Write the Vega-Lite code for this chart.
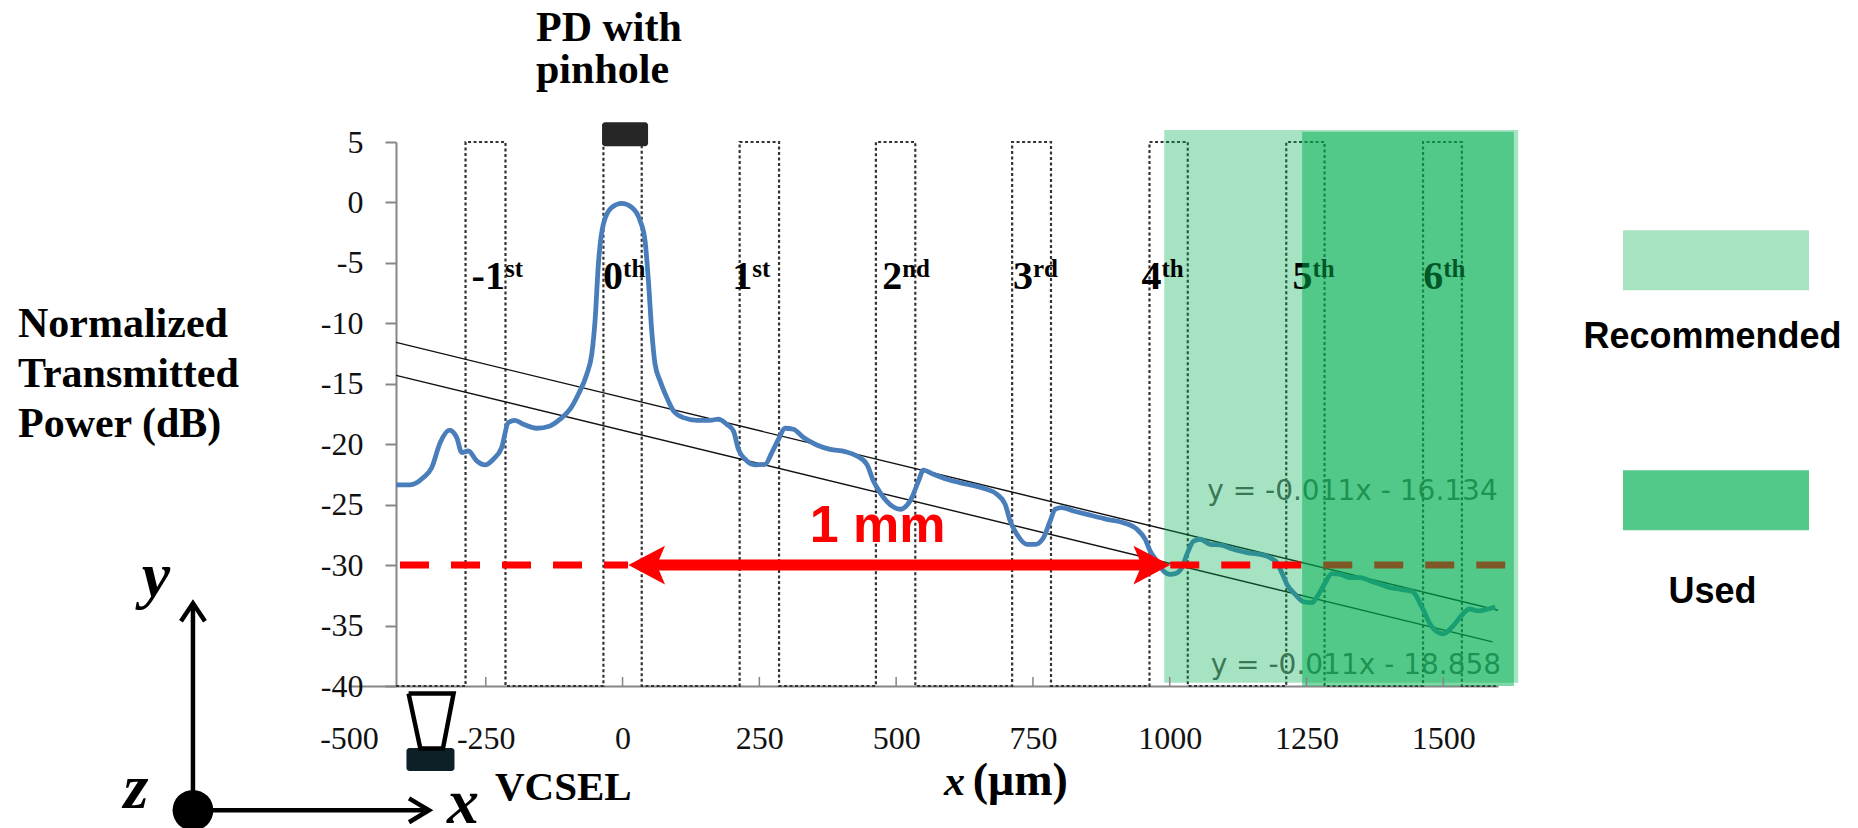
{
  "$schema": "https://vega.github.io/schema/vega-lite/v6.json",
  "width": 1149,
  "height": 544,
  "autosize": {"type": "none"},
  "padding": {"left": 349, "top": 142, "right": 360, "bottom": 142},
  "background": "white",
  "config": {"view": {"stroke": null}},
  "datasets": {
    "curve": [
      {"x":-414,"y":-23.37},{"x":-388.5,"y":-23.37},{"x":-364.1,"y":-22.76},{"x":-348.9,"y":-21.94},{"x":-333.6,"y":-19.9},{"x":-316.6,"y":-18.84},{"x":-303.1,"y":-19.45},{"x":-294,"y":-20.69},{"x":-281.9,"y":-20.56},{"x":-266.6,"y":-21.38},{"x":-251.4,"y":-21.71},{"x":-236.2,"y":-21.24},{"x":-221,"y":-20.28},{"x":-208.8,"y":-18.21},{"x":-196.6,"y":-18.02},{"x":-181.3,"y":-18.35},{"x":-156.9,"y":-18.68},{"x":-132.5,"y":-18.49},{"x":-114.3,"y":-17.93},{"x":-96,"y":-17.1},{"x":-80.8,"y":-15.86},{"x":-65.4,"y":-14.21},{"x":-56.3,"y":-12.55},{"x":-50.3,"y":-9.79},{"x":-44.2,"y":-5.1},{"x":-35.1,"y":-1.79},{"x":-19.7,"y":-0.41},{"x":-1.5,"y":-0.08},{"x":16.8,"y":-0.41},{"x":32,"y":-1.51},{"x":41.1,"y":-3.17},{"x":47.2,"y":-6.48},{"x":53.3,"y":-10.62},{"x":59.4,"y":-13.38},{"x":68.6,"y":-14.76},{"x":80.8,"y":-16.14},{"x":92.9,"y":-17.24},{"x":111.2,"y":-17.8},{"x":135.6,"y":-18.02},{"x":160,"y":-18.02},{"x":175.1,"y":-17.93},{"x":190.4,"y":-18.35},{"x":202.6,"y":-18.9},{"x":211.7,"y":-20.42},{"x":223.9,"y":-21.24},{"x":242.2,"y":-21.71},{"x":260.5,"y":-21.66},{"x":272.8,"y":-20.69},{"x":284.9,"y":-19.59},{"x":297,"y":-18.68},{"x":312.3,"y":-18.76},{"x":330.6,"y":-19.45},{"x":355,"y":-20.06},{"x":379.3,"y":-20.42},{"x":406.7,"y":-20.61},{"x":428,"y":-20.97},{"x":446.4,"y":-21.66},{"x":458.5,"y":-23.04},{"x":470.7,"y":-24.0},{"x":495.1,"y":-25.19},{"x":507.3,"y":-25.38},{"x":528.7,"y":-24.42},{"x":540.8,"y":-23.04},{"x":549.9,"y":-22.15},{"x":568.2,"y":-22.48},{"x":592.7,"y":-22.9},{"x":629.2,"y":-23.31},{"x":659.6,"y":-23.64},{"x":684.1,"y":-24.14},{"x":699.3,"y":-24.97},{"x":708.4,"y":-26.35},{"x":720.7,"y":-27.45},{"x":739,"y":-28.28},{"x":754.1,"y":-28.28},{"x":769.3,"y":-27.73},{"x":781.5,"y":-26.35},{"x":790.7,"y":-25.38},{"x":802.9,"y":-25.25},{"x":824.1,"y":-25.52},{"x":848.6,"y":-25.8},{"x":885.2,"y":-26.21},{"x":915.5,"y":-26.49},{"x":940,"y":-27.04},{"x":955.2,"y":-27.86},{"x":964.3,"y":-28.83},{"x":976.5,"y":-29.66},{"x":988.7,"y":-30.49},{"x":1000.9,"y":-30.76},{"x":1010,"y":-30.71},{"x":1022.3,"y":-30.21},{"x":1031.4,"y":-29.11},{"x":1043.5,"y":-28.01},{"x":1055.7,"y":-27.86},{"x":1074,"y":-28.28},{"x":1092.3,"y":-28.33},{"x":1116.6,"y":-28.69},{"x":1141,"y":-28.97},{"x":1165.4,"y":-29.11},{"x":1183.7,"y":-29.39},{"x":1195.9,"y":-29.8},{"x":1205,"y":-30.63},{"x":1214.2,"y":-31.59},{"x":1229.4,"y":-32.42},{"x":1244.6,"y":-33.03},{"x":1259.9,"y":-33.11},{"x":1272.1,"y":-32.42},{"x":1284.3,"y":-31.45},{"x":1296.5,"y":-30.71},{"x":1311.7,"y":-30.76},{"x":1330,"y":-31.04},{"x":1348.3,"y":-31.04},{"x":1366.6,"y":-31.31},{"x":1384.8,"y":-31.59},{"x":1403.1,"y":-31.87},{"x":1421.4,"y":-32.0},{"x":1444,"y":-32.2},{"x":1461,"y":-33.47},{"x":1478.4,"y":-35.06},{"x":1500,"y":-35.69},{"x":1517.4,"y":-35.06},{"x":1534.6,"y":-34.11},{"x":1547.5,"y":-33.63},{"x":1564.7,"y":-33.79},{"x":1582,"y":-33.63},{"x":1595,"y":-33.47}
    ],
    "wave": [
      {"o":1,"x":-414,"y":-40},{"o":2,"x":-287,"y":-40},{"o":3,"x":-287,"y":5},{"o":4,"x":-214,"y":5},{"o":5,"x":-214,"y":-40},{"o":6,"x":-35,"y":-40},{"o":7,"x":-35,"y":5},{"o":8,"x":35,"y":5},{"o":9,"x":35,"y":-40},{"o":10,"x":214,"y":-40},{"o":11,"x":214,"y":5},{"o":12,"x":286,"y":5},{"o":13,"x":286,"y":-40},{"o":14,"x":463,"y":-40},{"o":15,"x":463,"y":5},{"o":16,"x":535,"y":5},{"o":17,"x":535,"y":-40},{"o":18,"x":712,"y":-40},{"o":19,"x":712,"y":5},{"o":20,"x":783,"y":5},{"o":21,"x":783,"y":-40},{"o":22,"x":963,"y":-40},{"o":23,"x":963,"y":5},{"o":24,"x":1033,"y":5},{"o":25,"x":1033,"y":-40},{"o":26,"x":1213,"y":-40},{"o":27,"x":1213,"y":5},{"o":28,"x":1283,"y":5},{"o":29,"x":1283,"y":-40},{"o":30,"x":1463,"y":-40},{"o":31,"x":1463,"y":5},{"o":32,"x":1534,"y":5},{"o":33,"x":1534,"y":-40},{"o":34,"x":1599,"y":-40}
    ],
    "fits": [
      {"id":"upper","x":-414,"y":-11.58},{"id":"upper","x":1600,"y":-33.73},
      {"id":"lower","x":-414,"y":-14.30},{"id":"lower","x":1590,"y":-36.35}
    ],
    "eqs": [
      {"x":1068.5,"y":-24.6,"t":"y = -0.011x - 16.134"},
      {"x":1074.8,"y":-39.0,"t":"y = -0.011x - 18.858"}
    ],
    "light": [{"x":990,"x2":1637,"y":-39.74,"y2":6.0}],
    "dark": [{"x":1242,"x2":1629,"y":-40,"y2":5.84}],
    "orders": [
      {"x":-215,"y":-7.15,"m":"-1","s":"st"},
      {"x":1,"y":-7.15,"m":"0","s":"th"},
      {"x":237,"y":-7.15,"m":"1","s":"st"},
      {"x":511,"y":-7.15,"m":"2","s":"nd"},
      {"x":750,"y":-7.15,"m":"3","s":"rd"},
      {"x":985,"y":-7.15,"m":"4","s":"th"},
      {"x":1261,"y":-7.15,"m":"5","s":"th"},
      {"x":1500,"y":-7.15,"m":"6","s":"th"}
    ],
    "redDash": [{"x":-406.8,"x2":10,"y":-30},{"x":1001,"x2":1617,"y":-30}],
    "shaft": [{"x":30,"x2":975,"y":-30}],
    "headL": [{"x":44.1,"y":-30}],
    "headR": [{"x":967.2,"y":-30}],
    "mm": [{"x":342,"y":-28.07,"t":"1 mm"}],
    "xticks": [
      {"x":-250,"y":-40,"y2":-39.25},{"x":0,"y":-40,"y2":-39.25},{"x":250,"y":-40,"y2":-39.25},{"x":500,"y":-40,"y2":-39.25},{"x":750,"y":-40,"y2":-39.25},{"x":1000,"y":-40,"y2":-39.25},{"x":1250,"y":-40,"y2":-39.25},{"x":1500,"y":-40,"y2":-39.25}
    ],
    "pdbox": [{"x":-37.5,"x2":46.6,"y":4.64,"y2":6.63}],
    "pdtext": [{"x":-158.2,"y":13.33,"t":"PD with\npinhole"}],
    "ytitle": [{"x":-1105,"y":-11.13,"t":"Normalized\nTransmitted\nPower (dB)"}],
    "vcsel": [{"x":-233.2,"y":-49.45,"t":"VCSEL"}],
    "vcselbox": [{"x":-395,"x2":-307.2,"y":-45.13,"y2":-47.03}],
    "trap": [
      {"o":1,"x":-391.1,"y":-40.63},{"o":2,"x":-308.9,"y":-40.63},{"o":3,"x":-328.3,"y":-45.18},{"o":4,"x":-369.6,"y":-45.18},{"o":5,"x":-391.1,"y":-40.63}
    ],
    "axv": [{"x":-785.2,"y":-50.28,"y2":-33.16}],
    "axh": [{"x":-785.2,"x2":-353.8,"y":-50.28}],
    "chev": [
      {"g":"u","o":1,"x":-807.1,"y":-34.65},{"g":"u","o":2,"x":-785.2,"y":-33.16},{"g":"u","o":3,"x":-763.2,"y":-34.65},
      {"g":"r","o":1,"x":-390.3,"y":-49.29},{"g":"r","o":2,"x":-353.8,"y":-50.28},{"g":"r","o":3,"x":-390.3,"y":-51.27}
    ],
    "origin": [{"x":-785.2,"y":-50.28}],
    "letters": [
      {"x":-852.9,"y":-32.58,"t":"y"},
      {"x":-889.4,"y":-50.12,"t":"z"},
      {"x":-291.6,"y":-51.3,"t":"x"}
    ],
    "xtitleA": [{"x":626,"y":-49.04,"t":"x"}],
    "xtitleB": [{"x":640,"y":-49.04,"t":"(μm)"}],
    "legendBox": [
      {"k":"Recommended","x":1828.5,"x2":2168.4,"y":-2.30,"y2":-7.27},
      {"k":"Used","x":1828.5,"x2":2168.4,"y":-22.16,"y2":-27.12}
    ],
    "legendText": [
      {"x":1992,"y":-12.07,"t":"Recommended"},
      {"x":1992,"y":-33.16,"t":"Used"}
    ]
  },
  "encoding": {
    "x": {
      "field": "x", "type": "quantitative",
      "scale": {"domain": [-500, 1600], "nice": false, "zero": false},
      "axis": {
        "title": null, "grid": false,
        "values": [-500, -250, 0, 250, 500, 750, 1000, 1250, 1500],
        "ticks": false, "tickSize": 0, "labelPadding": 37,
        "labelFont": "Liberation Serif", "labelFontSize": 32, "labelColor": "#111111",
        "labelFlush": false, "labelOverlap": false,
        "labelExpr": "'' + datum.value",
        "domainColor": "#868686", "domainWidth": 2
      }
    },
    "y": {
      "field": "y", "type": "quantitative",
      "scale": {"domain": [-40, 5], "nice": false, "zero": false},
      "axis": {
        "title": null, "grid": false,
        "values": [5, 0, -5, -10, -15, -20, -25, -30, -35, -40],
        "offset": -47, "tickSize": 11, "tickColor": "#868686", "tickWidth": 2,
        "labelPadding": 22, "labelFont": "Liberation Serif", "labelFontSize": 32, "labelColor": "#111111",
        "labelFlush": false, "labelOverlap": false,
        "labelExpr": "'' + datum.value",
        "domainColor": "#868686", "domainWidth": 2
      }
    }
  },
  "layer": [
    {"data": {"name": "wave"}, "mark": {"type": "line", "color": "#333333", "strokeWidth": 2.2, "strokeDash": [3, 2.5]}, "encoding": {"order": {"field": "o", "type": "quantitative"}}},
    {"data": {"name": "fits"}, "mark": {"type": "line", "color": "#111111", "strokeWidth": 1.4}, "encoding": {"detail": {"field": "id", "type": "nominal"}}},
    {"data": {"name": "curve"}, "mark": {"type": "line", "color": "#4a7ebb", "strokeWidth": 4.8, "interpolate": "monotone"}},
    {"data": {"name": "eqs"}, "mark": {"type": "text", "align": "left", "baseline": "alphabetic", "font": "DejaVu Sans", "fontSize": 28, "color": "#595959"}, "encoding": {"text": {"field": "t", "type": "nominal"}}},
    {"data": {"name": "light"}, "mark": {"type": "rect", "color": "#00B050", "opacity": 0.35}, "encoding": {"x2": {"field": "x2"}, "y2": {"field": "y2"}}},
    {"data": {"name": "orders"}, "mark": {"type": "text", "align": "right", "baseline": "alphabetic", "font": "Liberation Serif", "fontWeight": "bold", "fontSize": 40, "color": "#000000"}, "encoding": {"text": {"field": "m", "type": "nominal"}}},
    {"data": {"name": "orders"}, "mark": {"type": "text", "align": "left", "baseline": "alphabetic", "font": "Liberation Serif", "fontWeight": "bold", "fontSize": 25, "dy": -11.5, "color": "#000000"}, "encoding": {"text": {"field": "s", "type": "nominal"}}},
    {"data": {"name": "redDash"}, "mark": {"type": "rule", "color": "#ff0000", "strokeWidth": 7, "strokeDash": [29, 22]}, "encoding": {"x2": {"field": "x2"}}},
    {"data": {"name": "shaft"}, "mark": {"type": "rule", "color": "#ff0000", "strokeWidth": 11}, "encoding": {"x2": {"field": "x2"}}},
    {"data": {"name": "headL"}, "mark": {"type": "point", "filled": true, "opacity": 1, "color": "#ff0000", "size": 1347, "shape": "M -1 0 L 1 -1.06 L 0.55 0 L 1 1.06 Z"}},
    {"data": {"name": "headR"}, "mark": {"type": "point", "filled": true, "opacity": 1, "color": "#ff0000", "size": 1347, "shape": "M 1 0 L -1 -1.06 L -0.55 0 L -1 1.06 Z"}},
    {"data": {"name": "mm"}, "mark": {"type": "text", "align": "left", "baseline": "alphabetic", "font": "Liberation Sans", "fontWeight": "bold", "fontSize": 52, "color": "#ff0000"}, "encoding": {"text": {"field": "t", "type": "nominal"}}},
    {"data": {"name": "dark"}, "mark": {"type": "rect", "color": "#00B050", "opacity": 0.5}, "encoding": {"x2": {"field": "x2"}, "y2": {"field": "y2"}}},
    {"data": {"name": "xticks"}, "mark": {"type": "rule", "color": "#868686", "strokeWidth": 1.5}, "encoding": {"y2": {"field": "y2"}}},
    {"data": {"name": "pdbox"}, "mark": {"type": "rect", "color": "#262626", "cornerRadius": 3}, "encoding": {"x2": {"field": "x2"}, "y2": {"field": "y2"}}},
    {"data": {"name": "pdtext"}, "mark": {"type": "text", "align": "left", "baseline": "alphabetic", "lineBreak": "\n", "lineHeight": 42, "font": "Liberation Serif", "fontWeight": "bold", "fontSize": 42, "color": "#000000"}, "encoding": {"text": {"field": "t", "type": "nominal"}}},
    {"data": {"name": "ytitle"}, "mark": {"type": "text", "align": "left", "baseline": "alphabetic", "lineBreak": "\n", "lineHeight": 50, "font": "Liberation Serif", "fontWeight": "bold", "fontSize": 42, "color": "#000000"}, "encoding": {"text": {"field": "t", "type": "nominal"}}},
    {"data": {"name": "vcsel"}, "mark": {"type": "text", "align": "left", "baseline": "alphabetic", "font": "Liberation Serif", "fontWeight": "bold", "fontSize": 41, "color": "#000000"}, "encoding": {"text": {"field": "t", "type": "nominal"}}},
    {"data": {"name": "vcselbox"}, "mark": {"type": "rect", "color": "#0d1f27", "cornerRadius": 3}, "encoding": {"x2": {"field": "x2"}, "y2": {"field": "y2"}}},
    {"data": {"name": "trap"}, "mark": {"type": "line", "color": "#000000", "strokeWidth": 4.5, "strokeJoin": "miter"}, "encoding": {"order": {"field": "o", "type": "quantitative"}}},
    {"data": {"name": "axv"}, "mark": {"type": "rule", "color": "#000000", "strokeWidth": 4.5}, "encoding": {"y2": {"field": "y2"}}},
    {"data": {"name": "axh"}, "mark": {"type": "rule", "color": "#000000", "strokeWidth": 4.5}, "encoding": {"x2": {"field": "x2"}}},
    {"data": {"name": "chev"}, "mark": {"type": "line", "color": "#000000", "strokeWidth": 4.5}, "encoding": {"detail": {"field": "g", "type": "nominal"}, "order": {"field": "o", "type": "quantitative"}}},
    {"data": {"name": "origin"}, "mark": {"type": "point", "shape": "circle", "filled": true, "opacity": 1, "color": "#000000", "size": 1662}},
    {"data": {"name": "letters"}, "mark": {"type": "text", "align": "center", "baseline": "alphabetic", "font": "Liberation Serif", "fontWeight": "bold", "fontStyle": "italic", "fontSize": 64, "color": "#000000"}, "encoding": {"text": {"field": "t", "type": "nominal"}}},
    {"data": {"name": "xtitleA"}, "mark": {"type": "text", "align": "right", "baseline": "alphabetic", "font": "Liberation Serif", "fontWeight": "bold", "fontStyle": "italic", "fontSize": 42, "color": "#000000"}, "encoding": {"text": {"field": "t", "type": "nominal"}}},
    {"data": {"name": "xtitleB"}, "mark": {"type": "text", "align": "left", "baseline": "alphabetic", "font": "Liberation Serif", "fontWeight": "bold", "fontSize": 46, "color": "#000000"}, "encoding": {"text": {"field": "t", "type": "nominal"}}},
    {"data": {"name": "legendBox"}, "mark": {"type": "rect"}, "encoding": {"x2": {"field": "x2"}, "y2": {"field": "y2"}, "color": {"field": "k", "type": "nominal", "scale": {"domain": ["Recommended", "Used"], "range": ["#A6E3C1", "#53C989"]}, "legend": null}}},
    {"data": {"name": "legendText"}, "mark": {"type": "text", "align": "center", "baseline": "alphabetic", "font": "Liberation Sans", "fontWeight": "bold", "fontSize": 36, "color": "#000000"}, "encoding": {"text": {"field": "t", "type": "nominal"}}}
  ]
}
